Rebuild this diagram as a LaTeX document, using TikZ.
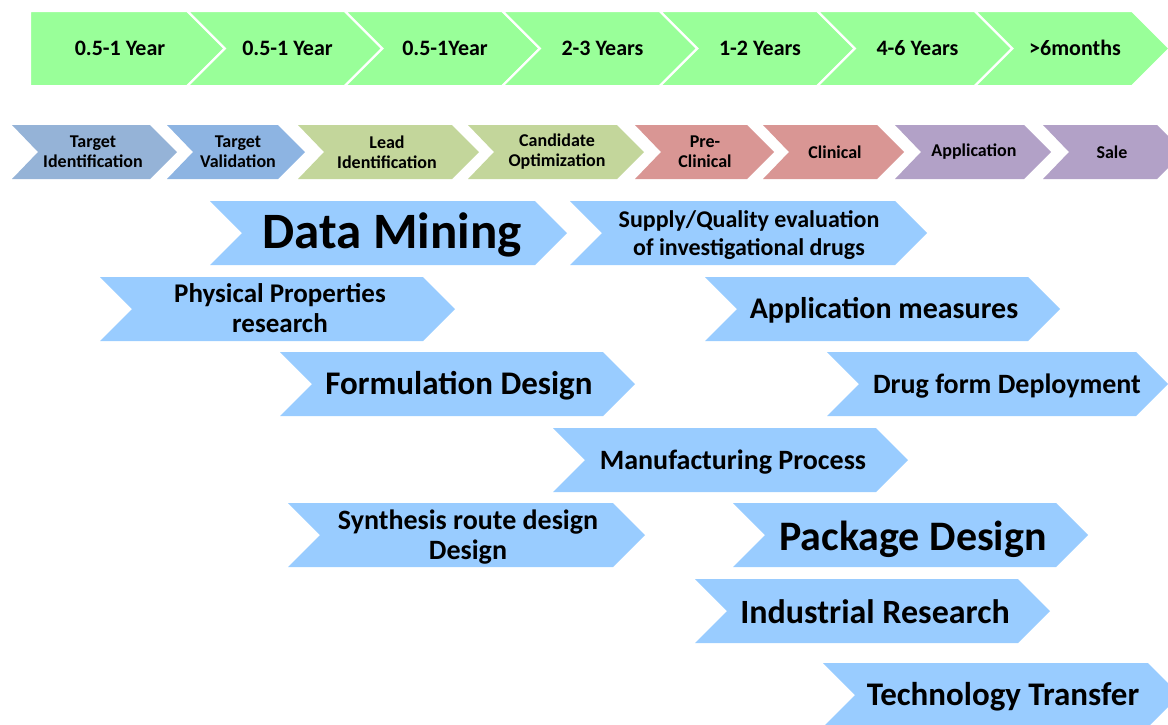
\documentclass[tikz,border=0pt]{standalone}
\usepackage{fontspec}
\setmainfont{Carlito}

\definecolor{yeargreen}{HTML}{99FF99}
\definecolor{tidblue}{HTML}{95B3D7}
\definecolor{tvalblue}{HTML}{8DB4E2}
\definecolor{leadgreen}{HTML}{C3D69B}
\definecolor{clinpink}{HTML}{D99694}
\definecolor{salepurple}{HTML}{B2A1C7}
\definecolor{taskblue}{HTML}{99CCFF}

% chevron: style, left x, top y, top-right x, height, left notch depth
\newcommand{\chev}[6]{%
  \path[#1] (#2,#3) -- (#4,#3) -- ({#4+#5/2},{#3+#5/2}) -- (#4,{#3+#5})
    -- (#2,{#3+#5}) -- ({#2+#6},{#3+#5/2}) -- cycle;}

\tikzset{
  lbl/.style 2 args={align=center, inner sep=0pt, font=\bfseries\fontsize{#1}{#2}\selectfont},
  yearbox/.style={fill=yeargreen, draw=white, line width=2pt, line join=miter}
}

\begin{document}
\begin{tikzpicture}[x=1pt, y=-1pt]
    \useasboundingbox (0,0) rectangle (1168,724);
    \clip (0,0) rectangle (1168,724);

    % durations
    \chev{yearbox}{30}{11}{187}{75}{0}
    \chev{yearbox}{187.5}{11}{344.5}{75}{37.5}
    \chev{yearbox}{345}{11}{502}{75}{37.5}
    \chev{yearbox}{502.5}{11}{659.5}{75}{37.5}
    \chev{yearbox}{660}{11}{817}{75}{37.5}
    \chev{yearbox}{817.5}{11}{974.5}{75}{37.5}
    \chev{yearbox}{975}{11}{1132}{75}{37.5}
    \node[lbl={22}{26}] (y1) at (120,48) {0.5-1 Year};
    \node[lbl={22}{26}] (y2) at (287.5,48) {0.5-1 Year};
    \node[lbl={22}{26}] (y3) at (445,48) {0.5-1Year};
    \node[lbl={22}{26}] (y4) at (602.5,48) {2-3 Years};
    \node[lbl={22}{26}] (y5) at (760,48) {1-2 Years};
    \node[lbl={22}{26}] (y6) at (917.5,48) {4-6 Years};
    \node[lbl={22}{26}] (y7) at (1075,48) {>6months};

    % phases
    \chev{fill=tidblue}{12}{125}{150}{54}{26}
    \chev{fill=tvalblue}{167}{125}{278}{54}{26}
    \chev{fill=leadgreen}{298}{125}{452}{54}{26}
    \chev{fill=leadgreen}{468}{125}{617}{54}{26}
    \chev{fill=clinpink}{635}{125}{747}{54}{26}
    \chev{fill=clinpink}{763}{125}{877}{54}{26}
    \chev{fill=salepurple}{895}{125}{1024}{54}{26}
    \chev{fill=salepurple}{1043}{125}{1157}{54}{26}
    \node[lbl={18}{20}] (p1) at (93,152) {Target\\Identification};
    \node[lbl={18}{20}] (p2) at (238,152) {Target\\Validation};
    \node[lbl={18}{20}] (p3) at (387,152) {Lead\\Identification};
    \node[lbl={18}{20}] (p4) at (557,152) {Candidate\\Optimization};
    \node[lbl={18}{20}] (p5) at (705,152) {Pre-\\Clinical};
    \node[lbl={18}{20}] (p6) at (835,152) {Clinical};
    \node[lbl={18}{20}] (p7) at (974,152) {Application};
    \node[lbl={18}{20}] (p8) at (1112,152) {Sale};

    % tasks
    \chev{fill=taskblue}{210}{201}{535}{64}{32}
    \chev{fill=taskblue}{570}{201}{895}{64}{32}
    \chev{fill=taskblue}{100}{277}{423}{64}{32}
    \chev{fill=taskblue}{705}{277}{1028}{64}{32}
    \chev{fill=taskblue}{280}{352}{603}{64}{32}
    \chev{fill=taskblue}{827}{352}{1136}{64}{32}
    \chev{fill=taskblue}{553}{428}{876}{64}{32}
    \chev{fill=taskblue}{288}{503}{613}{64}{32}
    \chev{fill=taskblue}{733}{503}{1056}{64}{32}
    \chev{fill=taskblue}{695}{579}{1018}{64}{32}
    \chev{fill=taskblue}{823}{663}{1148}{64}{32}
    \node[lbl={51}{56}] (dm) at (392,235) {Data Mining};
    \node[lbl={24}{28}] (sq) at (749,235) {Supply/Quality evaluation\\of investigational drugs};
    \node[lbl={27}{30}] (pp) at (280,308) {Physical Properties\\research};
    \node[lbl={30}{34}] (am) at (884,310) {Application measures};
    \node[lbl={33}{38}] (fd) at (459,386) {Formulation Design};
    \node[lbl={28}{32}] (df) at (1007,386) {Drug form Deployment};
    \node[lbl={28}{32}] (mp) at (733,462) {Manufacturing Process};
    \node[lbl={28}{30}] (sr) at (468,537) {Synthesis route design\\Design};
    \node[lbl={42}{48}] (pd) at (913,539) {Package Design};
    \node[lbl={34}{38}] (ir) at (875,612) {Industrial Research};
    \node[lbl={33}{38}] (tt) at (1003,697) {Technology Transfer};
\end{tikzpicture}
\end{document}
